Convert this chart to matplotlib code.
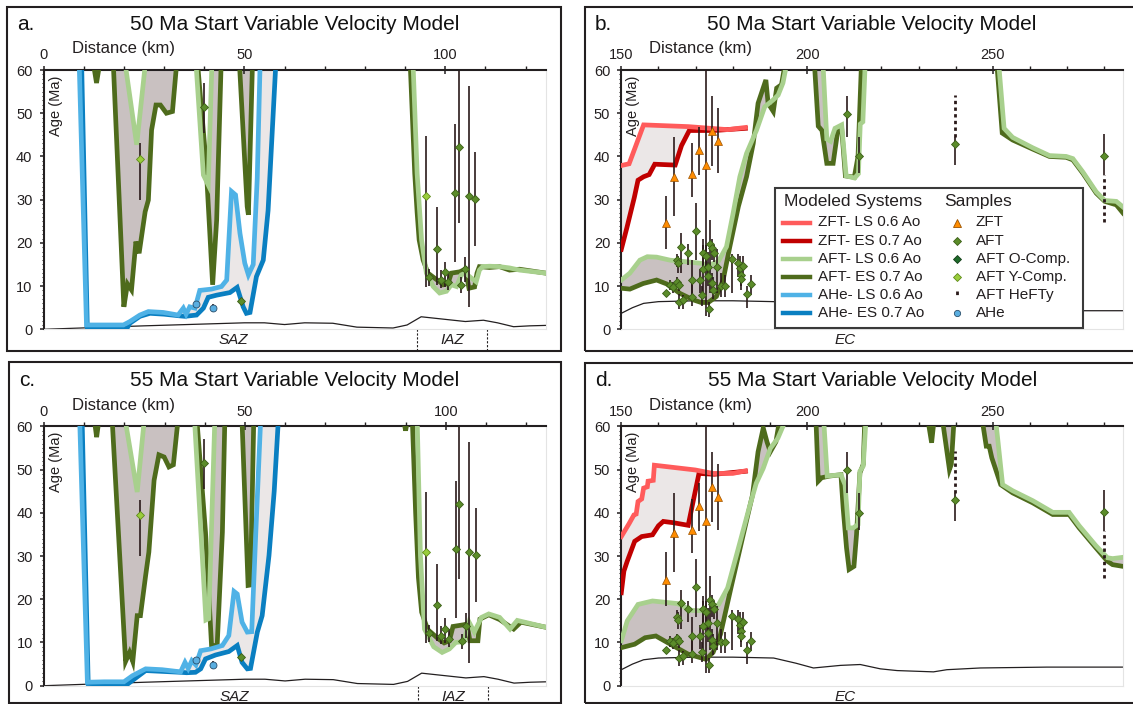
import numpy as np
import matplotlib
matplotlib.use("Agg")
import matplotlib.pyplot as plt
import matplotlib.transforms as mtrans
from matplotlib.ticker import MultipleLocator
from matplotlib.patches import Rectangle
from matplotlib.lines import Line2D

plt.rcParams["font.family"] = ["Liberation Sans", "DejaVu Sans"]

W, H = 1133, 704
OFF = 61  # stands for "above the 60 Ma frame" (curve leaves the plot)

# ---------------- panel a (50 Ma start, 0-125 km) ----------------
A_AHE_LS_X = [0, 8.9, 10.7, 15.0, 19.9, 21.5, 24.0, 26.1, 29.8, 33.5, 34.8, 35.5, 36.4, 37.7, 38.9, 41.8, 44.3, 45.6, 46.8, 47.8, 48.9, 50.1, 51.0, 52.2, 53.2, 53.9, 125]
A_AHE_LS_Y = [OFF, OFF, 1.0, 1.0, 1.0, 1.8, 3.3, 4.1, 3.9, 3.3, 4.9, 3.5, 5.2, 4.9, 9.0, 9.3, 9.9, 11.4, 31.9, 31.1, 22.2, 15.3, 12.6, 15.0, 35.0, OFF, OFF]
A_AHE_ES_X = [0, 9.5, 10.9, 16.0, 19.0, 20.7, 21.5, 24.0, 26.5, 30.0, 34.0, 35.2, 38.1, 39.8, 41.0, 43.1, 46.4, 48.2, 49.7, 50.5, 51.4, 53.0, 54.7, 55.9, 57.0, 57.8, 125]
A_AHE_ES_Y = [OFF, OFF, 0.6, 0.5, 0.2, 0.1, 1.4, 3.0, 3.7, 3.5, 3.1, 3.0, 3.3, 4.9, 7.4, 7.9, 8.5, 9.7, 5.2, 3.7, 3.9, 12.2, 16.0, 27.5, 46.9, OFF, OFF]
A_AFT_ES_X = [0, 12.5, 13.2, 13.9, 17.4, 20.0, 20.9, 21.9, 23.0, 23.8, 25.3, 26.1, 26.9, 28.0, 29.1, 30.6, 32.1, 33.1, 38.4, 40.4, 42.1, 43.1, 44.2, 48.8, 50.7, 51.0, 52.0, 91.3, 92.4, 93.0, 93.5, 94.5, 95.7, 97.4, 98.6, 99.5, 100.7, 101.5, 103.6, 105.0, 105.9, 107.3, 107.9, 108.5, 111.0, 113.5, 116.0, 118.5, 125]
A_AFT_ES_Y = [OFF, OFF, 57.0, OFF, OFF, 5.2, 10.5, 9.1, 20.3, 17.6, 27.2, 29.9, 46.1, 51.9, 51.9, 50.0, 50.4, OFF, OFF, 39.2, 10.3, 25.3, OFF, OFF, 28.4, 26.5, OFF, OFF, 36.1, 27.0, 20.7, 16.0, 13.0, 11.8, 11.0, 10.3, 10.6, 13.0, 13.3, 13.9, 9.5, 9.8, 13.0, 14.5, 14.3, 14.5, 13.7, 13.9, 13.0]
A_AFT_LS_X = [0, 20.4, 23.2, 25.3, 38.0, 39.8, 41.0, 41.9, 92.0, 93.0, 94.1, 95.3, 97.0, 98.6, 100.3, 101.5, 102.8, 104.0, 105.0, 106.3, 107.7, 108.5, 109.3, 111.0, 113.5, 116.0, 118.5, 125]
A_AFT_LS_Y = [OFF, OFF, 42.7, OFF, OFF, 35.7, 33.4, OFF, OFF, 36.0, 20.7, 13.0, 9.9, 8.4, 8.8, 10.3, 9.9, 12.6, 13.0, 12.0, 11.0, 13.7, 14.5, 14.6, 14.5, 14.2, 13.7, 13.0]

# ---------------- panel c (55 Ma start, 0-125 km) ----------------
C_AHE_LS_X = [0, 8.9, 10.8, 15.0, 19.9, 22.0, 25.3, 29.4, 34.0, 35.1, 35.9, 36.8, 37.8, 39.0, 41.5, 44.4, 46.0, 47.3, 48.1, 49.3, 50.6, 51.7, 52.7, 53.9, 125]
C_AHE_LS_Y = [OFF, OFF, 0.8, 0.9, 0.9, 2.3, 3.9, 3.7, 3.2, 5.4, 4.0, 5.8, 4.8, 8.1, 8.5, 9.3, 11.6, 21.8, 21.2, 14.7, 12.4, 12.5, 35.0, OFF, OFF]
C_AHE_ES_X = [0, 9.5, 11.0, 16.0, 20.3, 22.0, 25.3, 34.0, 35.5, 37.7, 39.0, 40.2, 42.7, 46.0, 48.1, 49.3, 50.6, 51.4, 53.1, 54.3, 56.0, 57.3, 58.3, 125]
C_AHE_ES_Y = [OFF, OFF, 0.5, 0.4, 0.0, 1.2, 3.5, 3.1, 3.0, 3.1, 3.9, 6.2, 7.1, 7.9, 9.3, 5.4, 3.9, 4.0, 12.4, 16.2, 30.1, 45.0, OFF, OFF]
C_AFT_ES_X = [0, 12.6, 13.1, 13.6, 17.0, 20.3, 21.3, 22.1, 23.2, 24.0, 25.3, 26.1, 27.4, 28.6, 29.9, 31.1, 32.2, 33.3, 38.1, 40.2, 41.7, 43.1, 44.4, 45.0, 49.3, 50.8, 51.4, 52.2, 89.6, 90.0, 90.4, 91.7, 92.5, 93.2, 94.0, 95.5, 98.2, 99.6, 100.9, 101.8, 104.5, 105.3, 106.0, 108.0, 108.5, 110.7, 113.4, 116.9, 118.7, 125]
C_AFT_ES_Y = [OFF, OFF, 57.5, OFF, OFF, 5.6, 7.7, 5.6, 16.2, 16.2, 25.5, 30.9, 47.5, 53.4, 52.9, 50.6, 51.1, OFF, OFF, 35.5, 9.3, 9.3, 35.5, OFF, OFF, 23.2, 23.3, OFF, OFF, 59.0, OFF, OFF, 40.0, 25.0, 17.0, 13.0, 10.8, 9.9, 10.4, 13.7, 14.1, 14.3, 10.4, 10.4, 15.4, 16.4, 15.3, 13.1, 14.7, 13.5]
C_AFT_LS_X = [0, 20.3, 23.2, 24.9, 37.5, 40.3, 41.0, 42.5, 92.9, 93.7, 94.7, 97.0, 99.1, 100.9, 102.5, 104.5, 105.8, 107.1, 108.9, 110.7, 113.4, 116.0, 117.8, 125]
C_AFT_LS_Y = [OFF, OFF, 44.8, OFF, OFF, 15.2, 15.5, OFF, OFF, 30.0, 13.1, 9.0, 7.7, 8.5, 10.0, 10.2, 14.7, 12.4, 15.8, 16.6, 15.8, 13.1, 15.1, 13.5]

# ---------------- panel b (50 Ma start, 150-285 km) ----------------
B_ZFT_LS_X = [150, 152.1, 156.0, 168.0, 178.6, 183.4]
B_ZFT_LS_Y = [37.9, 38.3, 47.3, 46.9, 46.2, 46.7]
B_ZFT_ES_X = [150, 151.5, 153.5, 154.5, 156.0, 157.5, 159.0, 164.5, 166.2, 168.3, 175.0, 183.4]
B_ZFT_ES_Y = [18.5, 23.5, 30.5, 34.5, 35.3, 35.8, 38.2, 38.0, 42.5, 46.0, 46.0, 46.5]
B_AFT_LS_X = [150, 152.3, 155.0, 157.0, 159.5, 163.1, 166.7, 171.1, 173.8, 176.1, 178.3, 180.1, 181.9, 183.7, 186.4, 188.6, 190.9, 192.2, 193.5, 194.4, 204.3, 205.3, 206.3, 207.5, 209.3, 210.5, 212.8, 213.8, 214.3, 215.0, 215.6, 251.6, 253.0, 255.3, 260.7, 265.2, 269.7, 271.5, 274.2, 277.8, 280.1, 283.2, 285]
B_AFT_LS_Y = [11.4, 13.0, 16.0, 16.8, 16.7, 16.0, 15.7, 15.3, 14.9, 15.7, 19.1, 26.9, 35.3, 40.7, 46.1, 51.5, 53.1, 54.2, 57.0, OFF, OFF, 44.0, 43.5, 46.5, 47.3, 35.5, 35.0, 36.0, 47.5, 48.0, OFF, OFF, 46.5, 44.4, 42.0, 40.2, 40.0, 39.5, 36.4, 31.8, 29.8, 29.6, 28.3]
B_AFT_ES_X = [150, 152.3, 155.9, 159.5, 162.2, 165.8, 169.4, 171.5, 173.4, 175.6, 177.4, 179.2, 181.5, 183.7, 185.5, 186.8, 188.9, 189.5, 190.9, 191.8, 193.1, 194.0, 202.0, 203.0, 204.0, 205.3, 207.0, 208.3, 209.3, 210.3, 212.7, 213.7, 214.6, 251.1, 252.5, 255.3, 260.7, 265.2, 269.7, 271.5, 274.2, 277.8, 280.1, 283.2, 285]
B_AFT_ES_Y = [9.5, 9.3, 10.6, 11.4, 10.5, 8.3, 6.8, 6.2, 6.2, 7.6, 11.4, 19.1, 28.4, 35.3, 43.0, 52.3, 57.7, 52.3, 50.4, 55.8, 56.6, OFF, OFF, 47.0, 46.0, 38.4, 38.4, 46.3, 46.5, 35.5, 35.2, 40.0, OFF, OFF, 45.4, 43.8, 41.7, 40.0, 39.8, 39.2, 36.1, 31.5, 29.6, 28.8, 26.9]

# ---------------- panel d (55 Ma start, 150-285 km) ----------------
D_ZFT_LS_X = [150, 152.1, 153.4, 154.0, 154.5, 155.5, 156.0, 157.0, 157.2, 158.6, 158.9, 169.9, 174.7, 180.0, 183.4]
D_ZFT_LS_Y = [34.5, 37.5, 39.5, 39.7, 42.6, 43.2, 45.7, 46.0, 47.3, 47.5, 51.0, 49.9, 49.1, 49.1, 49.7]
D_ZFT_ES_X = [150, 150.7, 151.6, 153.6, 155.5, 158.4, 160.0, 161.3, 164.0, 168.0, 170.9, 175.0, 183.4]
D_ZFT_ES_Y = [21.5, 26.5, 28.8, 33.4, 34.5, 34.9, 37.0, 38.0, 37.7, 37.1, 49.1, 48.9, 49.6]
D_AFT_LS_X = [150, 151.6, 154.5, 158.4, 165.1, 169.0, 173.8, 176.2, 178.6, 181.5, 184.4, 186.3, 188.2, 190.1, 192.1, 194.0, 204.5, 205.4, 209.1, 210.2, 211.1, 212.4, 213.7, 214.2, 215.1, 215.8, 250.8, 252.6, 255.3, 260.7, 266.1, 270.5, 273.2, 277.7, 280.8, 282.2, 285]
D_AFT_LS_Y = [10.4, 15.0, 18.8, 19.6, 19.0, 17.4, 17.3, 18.8, 22.6, 31.8, 41.1, 46.8, 50.3, 54.9, 57.2, OFF, OFF, 48.5, 48.8, 46.5, 36.5, 36.5, 37.3, 49.6, 50.8, OFF, OFF, 46.5, 45.1, 42.8, 40.1, 40.1, 37.0, 32.4, 29.6, 29.4, 29.7]
D_AFT_ES_X = [150, 153.6, 156.4, 159.3, 163.2, 168.0, 172.8, 174.7, 176.7, 179.5, 182.4, 185.3, 186.8, 188.2, 189.2, 190.1, 191.6, 192.5, 202.4, 203.0, 203.9, 206.1, 209.1, 209.7, 210.6, 211.3, 212.6, 213.3, 214.2, 215.1, 215.5, 232.6, 233.5, 234.1, 236.5, 238.3, 238.8, 239.5, 247.2, 248.2, 249.0, 249.7, 250.6, 252.1, 255.3, 260.7, 266.1, 270.5, 273.2, 277.7, 280.8, 282.2, 285]
D_AFT_ES_Y = [8.8, 9.6, 11.1, 11.5, 9.6, 7.3, 6.1, 7.7, 11.9, 22.6, 33.4, 44.1, 54.1, 59.6, 56.4, 54.1, 56.4, OFF, OFF, 47.3, 48.1, 48.5, 48.8, 41.1, 31.9, 26.9, 27.6, 35.0, 49.2, 51.2, OFF, OFF, 56.2, OFF, OFF, 50.0, 51.2, OFF, OFF, 55.4, 55.4, 52.7, 50.4, 46.5, 44.6, 42.3, 39.6, 39.6, 36.5, 31.9, 28.8, 28.0, 27.6]

# ---------------- topography (surface profile) ----------------
TOPO_L_X = [0, 25, 50, 55, 60, 65, 72, 78, 87, 90.5, 94, 98, 102, 105, 109.5, 113, 117, 121, 125]
TOPO_L_Y = [0, 0.8, 1.5, 1.5, 1.1, 1.5, 1.4, 0.5, 0.3, 1.0, 2.9, 2.5, 2.1, 1.8, 2.1, 1.5, 0.6, 0.8, 0.9]
TOPO_R_X = [150, 153, 156, 160, 170, 180, 191, 197, 201.7, 209, 214.3, 219.7, 224.2, 234, 237.6, 246.6, 264.5, 285]
TOPO_R_Y = [3.7, 5.0, 6.0, 6.4, 6.6, 6.6, 6.4, 5.2, 4.1, 4.7, 4.9, 3.9, 3.5, 3.2, 3.7, 4.1, 4.3, 4.3]

# ---------------- samples: west part (panels a, c) ----------------
L_AFT_X = [39.9, 49.1, 95.9, 97.9, 98.9, 99.9, 100.8, 102.5, 103.4, 104.0, 105.0, 105.9, 107.5]
L_AFT_Y = [51.4, 6.6, 12.2, 18.6, 11.4, 13.2, 10.9, 31.6, 42.1, 10.3, 13.9, 30.9, 30.2]
L_AFT_LO = [45.5, np.nan, 10.0, 10.3, 9.6, 9.9, 9.0, 15.6, 24.6, 8.5, 11.0, 5.2, 19.3]
L_AFT_HI = [57.0, np.nan, 14.0, 28.2, 13.7, 15.6, 13.0, 47.4, 59.8, 12.0, 16.8, 56.3, 41.1]
L_YC_X = [24.0, 95.1]
L_YC_Y = [39.4, 30.9]
L_YC_LO = [30.0, 9.9]
L_YC_HI = [43.0, 44.8]
L_AHE_X = [37.9, 42.1]
L_AHE_Y = [5.9, 4.9]
L_AHE_LO = [np.nan, 3.9]
L_AHE_HI = [np.nan, 5.8]

# ---------------- samples: east part (panels b, d) ----------------
R_ZFT_X = [162.0, 164.2, 169.0, 171.0, 172.9, 174.5, 176.0]
R_ZFT_Y = [24.5, 35.3, 36.0, 41.5, 38.0, 46.0, 43.6]
R_ZFT_LO = [18.5, 26.2, 30.7, 35.7, 3.0, 37.8, 36.1]
R_ZFT_HI = [30.9, 44.6, 43.1, 46.9, 61.0, 54.0, 51.2]
R_AFT_X = [162.0, 163.1, 164.0, 164.9, 165.3, 164.9, 165.5, 165.5, 166.0, 166.7, 168.0, 169.1, 169.1, 170.0, 171.1, 171.6, 172.0, 172.0, 172.9, 173.4, 173.4, 173.8, 174.3, 173.7, 174.3, 174.6, 174.9, 175.8, 176.9, 177.9, 179.9, 181.5, 181.9, 182.3, 182.8, 182.1, 183.7, 185.0, 210.6, 213.9, 239.9, 280.0]
R_AFT_Y = [8.3, 10.3, 9.9, 16.0, 15.3, 11.0, 10.3, 6.4, 19.1, 6.8, 17.7, 11.4, 7.4, 22.8, 11.4, 7.9, 13.9, 17.7, 17.0, 14.5, 12.3, 19.8, 18.8, 4.8, 10.6, 9.1, 17.7, 14.5, 10.0, 10.0, 16.2, 15.4, 14.1, 12.6, 14.7, 11.6, 8.2, 10.4, 49.8, 40.0, 42.9, 40.2]
R_AFT_LO = [np.nan, 9.0, 8.5, 14.5, 13.0, 9.5, 8.8, 4.6, 13.0, 4.8, 14.8, 6.8, 5.3, 16.0, 8.5, 5.5, 8.3, 13.0, 14.0, 12.0, 10.0, 8.3, 16.0, 2.9, 8.5, 7.0, 15.5, 8.3, 7.5, 7.5, 8.3, 12.0, 11.0, 10.0, 12.0, 9.0, 5.0, 8.0, 44.6, 36.1, 38.0, 35.7]
R_AFT_HI = [np.nan, 11.5, 11.0, 17.5, 17.0, 12.0, 11.5, 8.2, 22.2, 8.0, 19.7, 16.0, 11.4, 29.3, 14.0, 10.0, 19.5, 20.8, 19.5, 18.0, 14.5, 25.3, 21.0, 6.4, 13.0, 12.0, 19.5, 18.5, 13.0, 12.5, 17.5, 17.5, 17.0, 15.0, 17.0, 14.0, 10.0, 12.5, 54.0, 44.6, 44.6, 45.2]
R_HEFTY_X = [239.9, 280.0]
R_HEFTY_LO = [44.6, 24.9]
R_HEFTY_HI = [54.2, 35.7]

# zones
L_ZONES = ["SAZ", "IAZ"]
L_ZONE_X = [47.3, 101.8]
IAZ_BOUNDS = [93.0, 110.5]
R_ZONES = ["EC"]
R_ZONE_X = [210.3]

TITLES = ["50 Ma Start Variable Velocity Model", "50 Ma Start Variable Velocity Model",
          "55 Ma Start Variable Velocity Model", "55 Ma Start Variable Velocity Model"]
LETTERS = ["a.", "b.", "c.", "d."]

# colours
COL = {
    "zft_ls": "#ff5b5b", "zft_es": "#c00000",
    "aft_ls": "#a8d08d", "aft_es": "#4e6b1c",
    "ahe_ls": "#4fb2e6", "ahe_es": "#0a7fc1",
}
FILL_DARK = "#c9c1c1"
FILL_LIGHT = "#ebe7e7"
INK = "#231f20"
BAR = "#2a1a1a"


def band(ax, xe, ye, xl, yl, color):
    xs = np.r_[np.asarray(xe, float), np.asarray(xl, float)[::-1]]
    ys = np.r_[np.asarray(ye, float), np.asarray(yl, float)[::-1]]
    ax.fill(xs, ys, color=color, lw=0, zorder=1)


def bars(ax, x, lo, hi, **kw):
    x, lo, hi = map(lambda a: np.asarray(a, float), (x, lo, hi))
    ok = ~np.isnan(lo)
    ax.vlines(x[ok], lo[ok], hi[ok], **kw)


def setup(ax, xlim, majors):
    ax.set_xlim(*xlim)
    ax.set_ylim(0, 60)
    ax.xaxis.tick_top()
    ax.set_xticks(majors)
    ax.xaxis.set_minor_locator(MultipleLocator(10))
    ax.yaxis.set_major_locator(MultipleLocator(10))
    ax.yaxis.set_minor_locator(MultipleLocator(1))
    ax.tick_params(axis="x", which="major", direction="inout", length=6, width=1.1,
                   pad=2.5, labelsize=10.5, colors=INK)
    ax.tick_params(axis="x", which="minor", direction="out", length=3, width=1.0, colors=INK)
    ax.tick_params(axis="y", which="major", direction="out", length=3, width=1.1,
                   pad=5, labelsize=10.5, colors=INK)
    ax.tick_params(axis="y", which="minor", direction="out", length=1.8, width=0.7, colors=INK)
    for s in ("top", "left"):
        ax.spines[s].set_linewidth(1.5)
        ax.spines[s].set_color(INK)
    for s in ("bottom", "right"):
        ax.spines[s].set_linewidth(0.8)
        ax.spines[s].set_color("#e4e4e4")
    ax.text(0.056, 1.081, "Distance (km)", transform=ax.transAxes, ha="left", va="center",
            fontsize=12, color=INK)
    ax.text(0.024, 0.98, "Age (Ma)", transform=ax.transAxes, rotation=90, ha="center",
            va="top", fontsize=10.5, color=INK)


def curves(ax, pairs):
    # pairs: list of (es_x, es_y, ls_x, ls_y, es_col, ls_col, fill)
    for xe, ye, xl, yl, ce, cl, fc in pairs:
        band(ax, xe, ye, xl, yl, fc)
    for xe, ye, xl, yl, ce, cl, fc in pairs:
        ax.plot(xe, ye, color=ce, lw=3.4, zorder=3, solid_joinstyle="miter")
        ax.plot(xl, yl, color=cl, lw=3.4, zorder=3.1, solid_joinstyle="miter")


def diamonds(ax, x, y, fc, ec):
    ax.plot(x, y, ls="none", marker="D", ms=4.5, mfc=fc, mec=ec, mew=0.6, zorder=6)


def zone_labels(ax, names, xs, ypos):
    tr = mtrans.blended_transform_factory(ax.transData, ax.transAxes)
    for n, x in zip(names, xs):
        ax.text(x, ypos, n, transform=tr, ha="center", va="center", fontsize=11,
                style="italic", color=INK)
    return tr


fig = plt.figure(figsize=(W / 100, H / 100), dpi=100)

ax_pos = {
    "a": [43.5, 70.0, 545.7, 329.3],
    "b": [621.3, 70.0, 1123.0, 329.3],
    "c": [44.0, 426.3, 546.2, 685.7],
    "d": [621.3, 426.3, 1123.0, 685.7],
}
axes = {}
for k, (x0, y0, x1, y1) in ax_pos.items():
    axes[k] = fig.add_axes([x0 / W, 1 - y1 / H, (x1 - x0) / W, (y1 - y0) / H])

# west panels
for k, ahe, aft in (("a", (A_AHE_ES_X, A_AHE_ES_Y, A_AHE_LS_X, A_AHE_LS_Y),
                     (A_AFT_ES_X, A_AFT_ES_Y, A_AFT_LS_X, A_AFT_LS_Y)),
                    ("c", (C_AHE_ES_X, C_AHE_ES_Y, C_AHE_LS_X, C_AHE_LS_Y),
                     (C_AFT_ES_X, C_AFT_ES_Y, C_AFT_LS_X, C_AFT_LS_Y))):
    ax = axes[k]
    setup(ax, (0, 125), [0, 50, 100])
    ax.plot(TOPO_L_X, TOPO_L_Y, color=INK, lw=0.9, zorder=2)
    curves(ax, [ahe + (COL["ahe_es"], COL["ahe_ls"], FILL_LIGHT),
                aft + (COL["aft_es"], COL["aft_ls"], FILL_DARK)])
    bars(ax, L_AFT_X, L_AFT_LO, L_AFT_HI, color=BAR, lw=1.2, zorder=4)
    bars(ax, L_YC_X, L_YC_LO, L_YC_HI, color=BAR, lw=1.2, zorder=4)
    bars(ax, L_AHE_X, L_AHE_LO, L_AHE_HI, color=BAR, lw=1.2, zorder=4)
    diamonds(ax, L_AFT_X, L_AFT_Y, "#5b8c2a", "#3b5e17")
    diamonds(ax, L_YC_X, L_YC_Y, "#9acd3c", "#5f8a1a")
    ax.plot(L_AHE_X, L_AHE_Y, ls="none", marker="o", ms=5, mfc="#5aaee0", mec="#2b4f6b",
            mew=0.6, zorder=6)
    tr = zone_labels(ax, L_ZONES, L_ZONE_X, -0.042)
    for xb in IAZ_BOUNDS:
        ax.plot([xb, xb], [0, -0.085], transform=tr, color=INK, lw=0.8, ls=(0, (2, 1.5)),
                clip_on=False)

# east panels
for k, zft, aft in (("b", (B_ZFT_ES_X, B_ZFT_ES_Y, B_ZFT_LS_X, B_ZFT_LS_Y),
                     (B_AFT_ES_X, B_AFT_ES_Y, B_AFT_LS_X, B_AFT_LS_Y)),
                    ("d", (D_ZFT_ES_X, D_ZFT_ES_Y, D_ZFT_LS_X, D_ZFT_LS_Y),
                     (D_AFT_ES_X, D_AFT_ES_Y, D_AFT_LS_X, D_AFT_LS_Y))):
    ax = axes[k]
    setup(ax, (150, 285), [150, 200, 250])
    ax.plot(TOPO_R_X, TOPO_R_Y, color=INK, lw=0.9, zorder=2)
    curves(ax, [zft + (COL["zft_es"], COL["zft_ls"], FILL_LIGHT),
                aft + (COL["aft_es"], COL["aft_ls"], FILL_DARK)])
    bars(ax, R_ZFT_X, R_ZFT_LO, R_ZFT_HI, color=BAR, lw=1.2, zorder=4)
    bars(ax, R_AFT_X, R_AFT_LO, R_AFT_HI, color=BAR, lw=1.2, zorder=4)
    ax.vlines(R_HEFTY_X, R_HEFTY_LO, R_HEFTY_HI, color=BAR, lw=2.0,
              linestyles=[(0, (1.2, 1.2))], zorder=4)
    ax.plot(R_ZFT_X, R_ZFT_Y, ls="none", marker="^", ms=6, mfc="#ff8c00", mec="#9a5200",
            mew=0.5, zorder=6)
    diamonds(ax, R_AFT_X, R_AFT_Y, "#5b8c2a", "#3b5e17")
    zone_labels(ax, R_ZONES, R_ZONE_X, -0.042)

# panel frames, letters and titles
frames = {"a": (7, 7, 561, 351), "b": (585, 7, 1140, 351),
          "c": (9, 362, 561, 703), "d": (585, 363, 1140, 703)}
for i, k in enumerate("abcd"):
    x0, y0, x1, y1 = frames[k]
    fig.add_artist(Rectangle((x0 / W, 1 - y1 / H), (x1 - x0) / W, (y1 - y0) / H,
                             transform=fig.transFigure, fill=False, lw=1.5, ec=INK))
    ax0, _, ax1, _ = ax_pos[k]
    ty = 25 if k in "ab" else 380
    fig.text(((ax0 + ax1) / 2) / W, 1 - ty / H, TITLES[i], ha="center", va="center",
             fontsize=15, color="#111111")
    fig.text((x0 + 10) / W, 1 - ty / H, LETTERS[i], ha="left", va="center",
             fontsize=15, color="#111111")

# legend (panel b)
def fx(px):
    return px / W


def fy(py):
    return 1 - py / H


fig.add_artist(Rectangle((fx(775), fy(328)), (1083 - 775) / W, (328 - 188) / H,
                         transform=fig.transFigure, fc="white", ec="#3a3a3a", lw=1.5,
                         zorder=10))
fig.text(fx(784), fy(202), "Modeled Systems", ha="left", va="center", fontsize=12.5,
         color=INK, zorder=11)
fig.text(fx(944), fy(202), "Samples", ha="left", va="center", fontsize=12.5, color=INK,
         zorder=11)
SYS_LABELS = ["ZFT- LS 0.6 Ao", "ZFT- ES 0.7 Ao", "AFT- LS 0.6 Ao", "AFT- ES 0.7 Ao",
              "AHe- LS 0.6 Ao", "AHe- ES 0.7 Ao"]
SYS_COLS = [COL["zft_ls"], COL["zft_es"], COL["aft_ls"], COL["aft_es"], COL["ahe_ls"],
            COL["ahe_es"]]
SMP_LABELS = ["ZFT", "AFT", "AFT O-Comp.", "AFT Y-Comp.", "AFT HeFTy", "AHe"]
SMP_STYLE = [("^", "#ff8c00", "#9a5200"), ("D", "#5b8c2a", "#3b5e17"),
             ("D", "#1f6b2a", "#123d18"), ("D", "#9acd3c", "#5f8a1a"), None,
             ("o", "#5aaee0", "#2b4f6b")]
for i in range(6):
    yy = 222.5 + i * 18.1
    fig.add_artist(Line2D([fx(783), fx(810)], [fy(yy), fy(yy)], color=SYS_COLS[i], lw=3.2,
                          transform=fig.transFigure, zorder=11))
    fig.text(fx(818), fy(yy), SYS_LABELS[i], ha="left", va="center", fontsize=11,
             color=INK, zorder=11)
    st = SMP_STYLE[i]
    if st is None:
        fig.add_artist(Line2D([fx(957), fx(957)], [fy(yy - 4), fy(yy + 4)], color=BAR,
                              lw=2.0, ls=(0, (1.3, 1.6)), transform=fig.transFigure,
                              zorder=11))
    else:
        fig.add_artist(Line2D([fx(957)], [fy(yy)], ls="none", marker=st[0],
                              ms=6 if st[0] == "^" else 4.5, mfc=st[1], mec=st[2],
                              mew=0.6, transform=fig.transFigure, zorder=11))
    fig.text(fx(976), fy(yy), SMP_LABELS[i], ha="left", va="center", fontsize=11,
             color=INK, zorder=11)

fig.savefig("out.png", dpi=100)
